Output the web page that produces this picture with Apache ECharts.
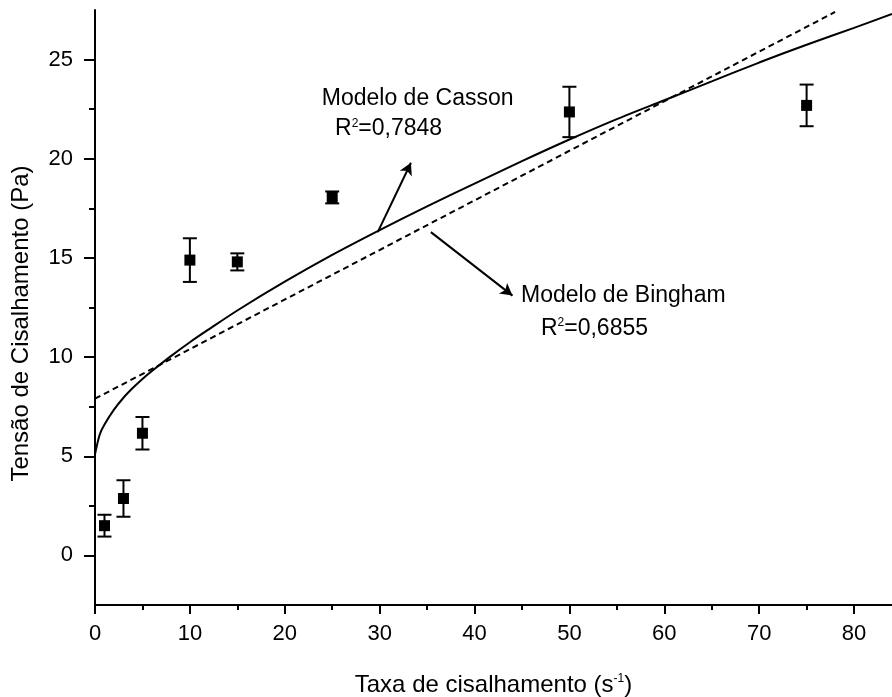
<!DOCTYPE html>
<html>
<head>
<meta charset="utf-8">
<script src="https://cdn.jsdelivr.net/npm/echarts@6/dist/echarts.min.js"></script>
<style>
html, body { margin: 0; padding: 0; background: #fff; }
#main { width: 892px; height: 697px; }
</style>
</head>
<body>
<div id="main"></div>
<script>
// pontos experimentais (media +- desvio)
var rateX = [1, 3, 5, 10, 15, 25, 50, 75];
var stressMean = [1.5, 2.87, 6.16, 14.89, 14.8, 18.05, 22.36, 22.69];
var stressErr = [0.55, 0.92, 0.82, 1.1, 0.43, 0.3, 1.27, 1.05];

// curva de Casson
var cassonX = [0, 0.5, 1, 2, 3, 4, 5, 6, 8, 10, 12, 15, 20, 25, 30, 35, 40, 45, 50, 55, 60, 65, 70, 75, 80, 84];
var cassonY = [5.1, 6.1, 6.6, 7.35, 7.95, 8.45, 8.9, 9.3, 10.05, 10.75, 11.4, 12.35, 13.8, 15.15, 16.4, 17.6, 18.75, 19.88, 20.97, 22.0, 22.95, 23.9, 24.85, 25.75, 26.6, 27.3];

// reta de Bingham
var binghamX = [0, 78];
var binghamY = [7.9, 27.4];

// eixos
var xLabels = [0, 10, 20, 30, 40, 50, 60, 70, 80];
var xMinor = [5, 15, 25, 35, 45, 55, 65, 75];
var yLabels = [0, 5, 10, 15, 20, 25];
var yMinor = [2.5, 7.5, 12.5, 17.5, 22.5];

// anotacoes
var noteText = ['Modelo de Casson', 'R{s|2}=0,7848', 'Modelo de Bingham', 'R{s|2}=0,6855'];
var notePos = [[23.9, 23.05], [25.3, 21.5], [44.9, 13.1], [47.0, 11.44]];
var arrowCasson = [[29.8, 16.3], [33.3, 19.8]];
var arrowBingham = [[35.4, 16.3], [44.0, 13.1]];

var FONT = 'Liberation Sans, Arial, sans-serif';
var INK = '#000';

var myChart = echarts.init(document.getElementById('main'));

function zip(a, b) {
    var out = [];
    for (var i = 0; i < a.length; i++) out.push([a[i], b[i]]);
    return out;
}

var errData = [];
for (var i = 0; i < rateX.length; i++) {
    errData.push([rateX[i], stressMean[i] - stressErr[i], stressMean[i] + stressErr[i]]);
}
var noteData = [];
for (var j = 0; j < noteText.length; j++) {
    noteData.push([notePos[j][0], notePos[j][1], noteText[j]]);
}

var mainX = {
    type: 'value', min: 0, max: 84, position: 'bottom',
    name: 'Taxa de cisalhamento (s{s|-1})',
    nameLocation: 'middle', nameGap: 68,
    nameTextStyle: {
        fontFamily: FONT, fontSize: 24, color: INK,
        rich: { s: { fontFamily: FONT, fontSize: 12, verticalAlign: 'top', color: INK } }
    },
    axisLine: { onZero: false, lineStyle: { color: INK, width: 2 } },
    axisTick: { length: 9, lineStyle: { color: INK, width: 2 }, customValues: xLabels },
    axisLabel: { fontFamily: FONT, fontSize: 22, color: INK, margin: 18, customValues: xLabels },
    splitLine: { show: false }
};
var minorX = {
    type: 'value', min: 0, max: 84, position: 'bottom',
    axisLine: { show: false, onZero: false },
    axisTick: { length: 5, lineStyle: { color: INK, width: 2 }, customValues: xMinor },
    axisLabel: { show: false },
    splitLine: { show: false }
};
var mainY = {
    type: 'value', min: -2.5, max: 27.5, position: 'left',
    name: 'Tensão de Cisalhamento (Pa)',
    nameLocation: 'middle', nameGap: 62,
    nameTextStyle: { fontFamily: FONT, fontSize: 24, color: INK, padding: [0, 32, 0, 0] },
    axisLine: { onZero: false, lineStyle: { color: INK, width: 2 } },
    axisTick: { length: 11, lineStyle: { color: INK, width: 2 }, customValues: yLabels },
    axisLabel: { fontFamily: FONT, fontSize: 22, color: INK, margin: 22, customValues: yLabels },
    splitLine: { show: false }
};
var minorY = {
    type: 'value', min: -2.5, max: 27.5, position: 'left',
    axisLine: { show: false, onZero: false },
    axisTick: { length: 6, lineStyle: { color: INK, width: 2 }, customValues: yMinor },
    axisLabel: { show: false },
    splitLine: { show: false }
};

var option = {
    backgroundColor: '#fff',
    animation: false,
    grid: { left: 95, right: 0, top: 10, bottom: 92, containLabel: false, outerBoundsMode: 'none' },
    xAxis: [mainX, minorX],
    yAxis: [mainY, minorY],
    series: [
        {
            name: 'Casson',
            type: 'line',
            data: zip(cassonX, cassonY),
            smooth: 0.3,
            showSymbol: false,
            lineStyle: { color: INK, width: 2 },
            markLine: {
                silent: true,
                symbol: ['none', 'arrow'],
                symbolSize: [10, 12],
                lineStyle: { color: INK, width: 2, type: 'solid' },
                label: { show: false },
                data: [
                    [{ coord: arrowCasson[0] }, { coord: arrowCasson[1] }],
                    [{ coord: arrowBingham[0] }, { coord: arrowBingham[1] }]
                ]
            }
        },
        {
            name: 'Bingham',
            type: 'line',
            data: zip(binghamX, binghamY),
            showSymbol: false,
            lineStyle: { color: INK, width: 2, type: [6, 4] }
        },
        {
            name: 'erro',
            type: 'custom',
            data: errData,
            renderItem: function (params, api) {
                var x = api.value(0);
                var lo = api.coord([x, api.value(1)]);
                var hi = api.coord([x, api.value(2)]);
                var w = 7;
                var st = { stroke: INK, lineWidth: 2 };
                return {
                    type: 'group',
                    children: [
                        { type: 'line', shape: { x1: lo[0], y1: lo[1], x2: hi[0], y2: hi[1] }, style: st },
                        { type: 'line', shape: { x1: lo[0] - w, y1: lo[1], x2: lo[0] + w, y2: lo[1] }, style: st },
                        { type: 'line', shape: { x1: hi[0] - w, y1: hi[1], x2: hi[0] + w, y2: hi[1] }, style: st }
                    ]
                };
            },
            z: 3
        },
        {
            name: 'pontos',
            type: 'scatter',
            data: zip(rateX, stressMean),
            symbol: 'rect',
            symbolSize: 11,
            itemStyle: { color: INK, opacity: 1 },
            z: 4
        },
        {
            name: 'notas',
            type: 'scatter',
            data: noteData,
            symbolSize: 0,
            silent: true,
            itemStyle: { opacity: 1 },
            label: {
                show: true,
                position: 'right',
                distance: 0,
                fontFamily: FONT,
                fontSize: 23,
                color: INK,
                formatter: function (p) { return p.data[2]; },
                rich: { s: { fontFamily: FONT, fontSize: 12, verticalAlign: 'top', color: INK } }
            }
        }
    ]
};
myChart.setOption(option);
</script>
</body>
</html>
